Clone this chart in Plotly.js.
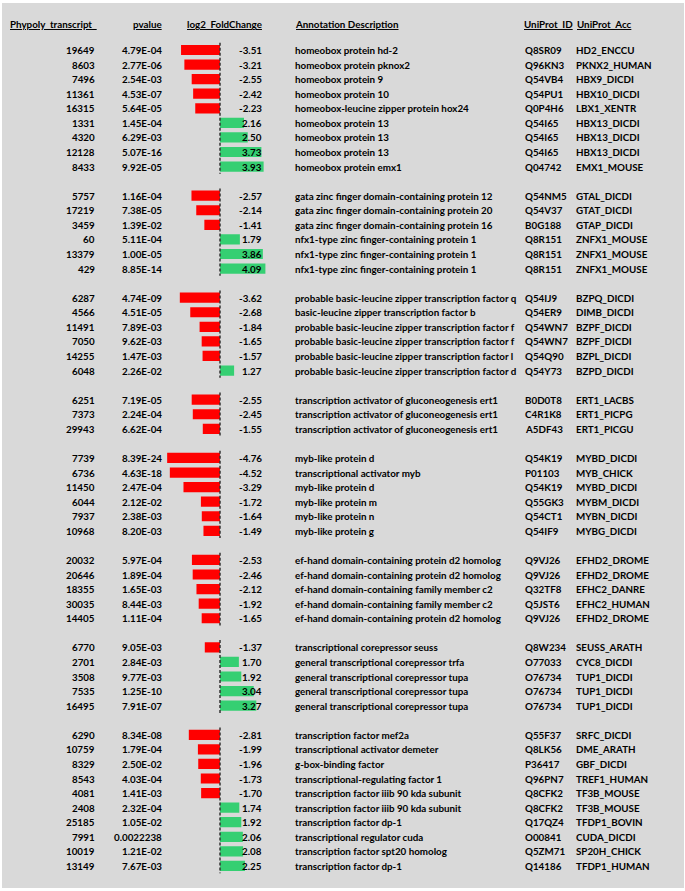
<!DOCTYPE html>
<html><head><meta charset="utf-8">
<script src="https://cdn.plot.ly/plotly-3.0.1.min.js"></script>
<style>html,body{margin:0;padding:0;background:#fff;}</style>
</head><body><div id="chart" style="width:685px;height:891px;"></div>
<script>
// ---- data ----
const groupSizes = [9, 6, 6, 3, 6, 5, 5, 10];
const headers = ["Phypoly_transcript_", "pvalue", "log2_FoldChange", "Annotation Description", "UniProt_ID", "UniProt_Acc"];
const transcripts = ["19649","8603","7496","11361","16315","1331","4320","12128","8433",
  "5757","17219","3459","60","13379","429",
  "6287","4566","11491","7050","14255","6048",
  "6251","7373","29943",
  "7739","6736","11450","6044","7937","10968",
  "20032","20646","18355","30035","14405",
  "6770","2701","3508","7535","16495",
  "6290","10759","8329","8543","4081","2408","25185","7991","10019","13149"];
const pvalues = ["4.79E-04","2.77E-06","2.54E-03","4.53E-07","5.64E-05","1.45E-04","6.29E-03","5.07E-16","9.92E-05",
  "1.16E-04","7.38E-05","1.39E-02","5.11E-04","1.00E-05","8.85E-14",
  "4.74E-09","4.51E-05","7.89E-03","9.62E-03","1.47E-03","2.26E-02",
  "7.19E-05","2.24E-04","6.62E-04",
  "8.39E-24","4.63E-18","2.47E-04","2.12E-02","2.38E-03","8.20E-03",
  "5.97E-04","1.89E-04","1.65E-03","8.44E-03","1.11E-04",
  "9.05E-03","2.84E-03","9.77E-03","1.25E-10","7.91E-07",
  "8.34E-08","1.79E-04","2.50E-02","4.03E-04","1.41E-03","2.32E-04","1.05E-02","0.0022238","1.21E-02","7.67E-03"];
const log2fc = [-3.51,-3.21,-2.55,-2.42,-2.23,2.16,2.50,3.73,3.93,
  -2.57,-2.14,-1.41,1.79,3.86,4.09,
  -3.62,-2.68,-1.84,-1.65,-1.57,1.27,
  -2.55,-2.45,-1.55,
  -4.76,-4.52,-3.29,-1.72,-1.64,-1.49,
  -2.53,-2.46,-2.12,-1.92,-1.65,
  -1.37,1.70,1.92,3.04,3.27,
  -2.81,-1.99,-1.96,-1.73,-1.70,1.74,1.92,2.06,2.08,2.25];
const descriptions = ["homeobox protein hd-2","homeobox protein pknox2","homeobox protein 9","homeobox protein 10","homeobox-leucine zipper protein hox24","homeobox protein 13","homeobox protein 13","homeobox protein 13","homeobox protein emx1",
  "gata zinc finger domain-containing protein 12","gata zinc finger domain-containing protein 20","gata zinc finger domain-containing protein 16","nfx1-type zinc finger-containing protein 1","nfx1-type zinc finger-containing protein 1","nfx1-type zinc finger-containing protein 1",
  "probable basic-leucine zipper transcription factor q","basic-leucine zipper transcription factor b","probable basic-leucine zipper transcription factor f","probable basic-leucine zipper transcription factor f","probable basic-leucine zipper transcription factor l","probable basic-leucine zipper transcription factor d",
  "transcription activator of gluconeogenesis ert1","transcription activator of gluconeogenesis ert1","transcription activator of gluconeogenesis ert1",
  "myb-like protein d","transcriptional activator myb","myb-like protein d","myb-like protein m","myb-like protein n","myb-like protein g",
  "ef-hand domain-containing protein d2 homolog","ef-hand domain-containing protein d2 homolog","ef-hand domain-containing family member c2","ef-hand domain-containing family member c2","ef-hand domain-containing protein d2 homolog",
  "transcriptional corepressor seuss","general transcriptional corepressor trfa","general transcriptional corepressor tupa","general transcriptional corepressor tupa","general transcriptional corepressor tupa",
  "transcription factor mef2a","transcriptional activator demeter","g-box-binding factor","transcriptional-regulating factor 1","transcription factor iiib 90 kda subunit","transcription factor iiib 90 kda subunit","transcription factor dp-1","transcriptional regulator cuda","transcription factor spt20 homolog","transcription factor dp-1"];
const uniprotIds = ["Q8SR09","Q96KN3","Q54VB4","Q54PU1","Q0P4H6","Q54I65","Q54I65","Q54I65","Q04742",
  "Q54NM5","Q54V37","B0G188","Q8R151","Q8R151","Q8R151",
  "Q54IJ9","Q54ER9","Q54WN7","Q54WN7","Q54Q90","Q54Y73",
  "B0D0T8","C4R1K8","A5DF43",
  "Q54K19","P01103","Q54K19","Q55GK3","Q54CT1","Q54IF9",
  "Q9VJ26","Q9VJ26","Q32TF8","Q5JST6","Q9VJ26",
  "Q8W234","O77033","O76734","O76734","O76734",
  "Q55F37","Q8LK56","P36417","Q96PN7","Q8CFK2","Q8CFK2","Q17QZ4","O00841","Q5ZM71","Q14186"];
const uniprotAccs = ["HD2_ENCCU","PKNX2_HUMAN","HBX9_DICDI","HBX10_DICDI","LBX1_XENTR","HBX13_DICDI","HBX13_DICDI","HBX13_DICDI","EMX1_MOUSE",
  "GTAL_DICDI","GTAT_DICDI","GTAP_DICDI","ZNFX1_MOUSE","ZNFX1_MOUSE","ZNFX1_MOUSE",
  "BZPQ_DICDI","DIMB_DICDI","BZPF_DICDI","BZPF_DICDI","BZPL_DICDI","BZPD_DICDI",
  "ERT1_LACBS","ERT1_PICPG","ERT1_PICGU",
  "MYBD_DICDI","MYB_CHICK","MYBD_DICDI","MYBM_DICDI","MYBN_DICDI","MYBG_DICDI",
  "EFHD2_DROME","EFHD2_DROME","EFHC2_DANRE","EFHC2_HUMAN","EFHD2_DROME",
  "SEUSS_ARATH","CYC8_DICDI","TUP1_DICDI","TUP1_DICDI","TUP1_DICDI",
  "SRFC_DICDI","DME_ARATH","GBF_DICDI","TREF1_HUMAN","TF3B_MOUSE","TF3B_MOUSE","TFDP1_BOVIN","CUDA_DICDI","SP20H_CHICK","TFDP1_HUMAN"];

// ---- layout helpers ----
const W = 685, H = 891;
const row0 = 50, rowH = 14.57;
const px2row = p => (p - row0) / rowH;
const px = x => x / W;

// row positions (blank row between groups)
const rowPos = [];
const zeroX = [], zeroY = [];
let r = 0;
groupSizes.forEach(n => {
  zeroX.push(0, 0, null);
  zeroY.push(r - 0.5, r + n - 0.5, null);
  for (let k = 0; k < n; k++) { rowPos.push(r); r++; }
  r++;
});

const FONT = {family: "Lato, 'Open Sans', sans-serif", size: 9.8, color: "#000", weight: 700};
const ann = [];
function add(x, y, text, anchor) {
  ann.push({xref: "paper", yref: "y", x: px(x), y: y, text: "<b>" + text + "</b>",
    showarrow: false, xanchor: anchor, yanchor: "middle", font: FONT, borderpad: 0});
}
const hy = px2row(24);
add(9, hy, "<u>" + headers[0] + "</u>", "left");
add(163, hy, "<u>" + headers[1] + "</u>", "right");
add(263, hy, "<u>" + headers[2] + "</u>", "right");
add(294, hy, "<u>" + headers[3] + "</u>", "left");
add(523, hy, "<u>" + headers[4] + "</u>", "left");
add(576, hy, "<u>" + headers[5] + "</u>", "left");

rowPos.forEach((y, i) => {
  add(96, y, transcripts[i], "right");
  add(163, y, pvalues[i], "right");
  add(263, y, log2fc[i].toFixed(2), "right");
  add(294, y, descriptions[i], "left");
  add(524, y, uniprotIds[i], "left");
  add(575, y, uniprotAccs[i], "left");
});

const zeroPx = 220, unitPx = 11.1, xr = 5;
const traces = [
  {type: "bar", orientation: "h", x: log2fc, y: rowPos, width: 0.7,
   marker: {color: log2fc.map(v => v < 0 ? "#ff0000" : "#35cf72"), line: {width: 0}},
   hoverinfo: "skip"},
  {type: "scatter", mode: "lines", x: zeroX, y: zeroY,
   line: {color: "#333", width: 1.5, dash: "3px,2px"}, hoverinfo: "skip"}
];

const layout = {
  width: W, height: H, margin: {l: 0, r: 0, t: 0, b: 0},
  paper_bgcolor: "#ffffff", plot_bgcolor: "rgba(0,0,0,0)",
  showlegend: false,
  xaxis: {range: [-xr, xr], domain: [px(zeroPx - xr * unitPx), px(zeroPx + xr * unitPx)],
          visible: false, fixedrange: true},
  yaxis: {range: [px2row(H), px2row(0)], domain: [0, 1], visible: false, fixedrange: true},
  annotations: ann,
  shapes: [{type: "rect", xref: "paper", yref: "paper", x0: px(2), x1: px(684), y0: 1 - 3 / H, y1: 1 - 888 / H,
            fillcolor: "#d9d9d9", line: {width: 0}, layer: "below"}]
};
Plotly.newPlot("chart", traces, layout, {displayModeBar: false, staticPlot: true});
</script></body></html>
